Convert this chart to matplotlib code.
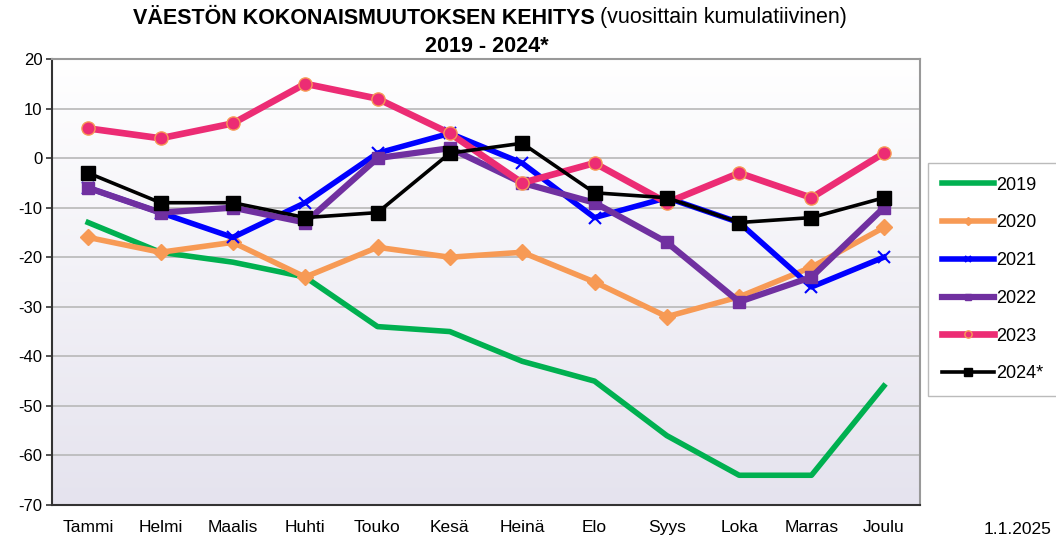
import matplotlib
matplotlib.use("Agg")
import matplotlib.pyplot as plt
import numpy as np
from matplotlib.colors import LinearSegmentedColormap

months = ["Tammi", "Helmi", "Maalis", "Huhti", "Touko", "Kesä", "Heinä",
          "Elo", "Syys", "Loka", "Marras", "Joulu"]
y2019 = [-13, -19, -21, -24, -34, -35, -41, -45, -56, -64, -64, -46]
y2020 = [-16, -19, -17, -24, -18, -20, -19, -25, -32, -28, -22, -14]
y2021 = [-6, -11, -16, -9, 1, 5, -1, -12, -8, -13, -26, -20]
y2022 = [-6, -11, -10, -13, 0, 2, -5, -9, -17, -29, -24, -10]
y2023 = [6, 4, 7, 15, 12, 5, -5, -1, -9, -3, -8, 1]
y2024 = [-3, -9, -9, -12, -11, 1, 3, -7, -8, -13, -12, -8]
yticks = [20, 10, 0, -10, -20, -30, -40, -50, -60, -70]

plt.rcParams['font.family'] = ['Liberation Sans', 'DejaVu Sans']

fig = plt.figure(figsize=(10.56, 5.52), dpi=100)
ax = fig.add_axes([52/1056, 1-505/552, (920-52)/1056, (505-59)/552])

# gradient background
cmap = LinearSegmentedColormap.from_list("bg", ["#ffffff", "#e5e3ee"])
grad = np.linspace(0, 1, 256).reshape(-1, 1)
ax.imshow(grad, cmap=cmap, aspect='auto', extent=[0, 1, 0, 1],
          transform=ax.transAxes, zorder=0)

x = np.arange(len(months))
ax.plot(x, y2019, color="#00b050", lw=4.0, label="2019", zorder=3)
ax.plot(x, y2020, color="#f79a55", lw=4.0, marker='D', ms=8, mec="#f79a55",
        label="2020", zorder=3)
ax.plot(x, y2021, color="#0000ff", lw=4.0, marker='x', ms=8, mew=1.5,
        label="2021", zorder=4)
ax.plot(x, y2022, color="#7030a0", lw=4.5, marker='s', ms=8,
        label="2022", zorder=5)
ax.plot(x, y2023, color="#ec2c74", lw=4.8, marker='o', ms=9.5, mec="#f79a55",
        mew=1.0, label="2023", zorder=6)
ax.plot(x, y2024, color="#000000", lw=2.6, marker='s', ms=10,
        label="2024*", zorder=7)

ax.set_xlim(-0.5, len(months) - 0.5)
ax.set_ylim(-70, 20)
ax.set_yticks(yticks)
ax.set_yticklabels([str(v) for v in yticks], fontsize=12)
ax.set_xticks(x)
ax.set_xticklabels(months, fontsize=12.5)
ax.tick_params(axis='x', length=0, pad=11)
ax.tick_params(axis='y', length=4, width=1.2, color="#333333", pad=3,
               direction='out')
ax.grid(axis='y', color="#b8b8b8", lw=1.2, zorder=1)
ax.set_axisbelow(True)
for s in ['top', 'right']:
    ax.spines[s].set_color("#999999")
    ax.spines[s].set_linewidth(1.5)
for s in ['left', 'bottom']:
    ax.spines[s].set_color("#333333")
    ax.spines[s].set_linewidth(1.5)

leg = fig.legend(loc='upper left', bbox_to_anchor=(928/1056, 1-163/552),
                 fontsize=13, frameon=True, fancybox=False,
                 edgecolor="#aaaaaa", borderpad=0.75, labelspacing=1.15,
                 handlelength=2.9, handletextpad=0.15, borderaxespad=0,
                 markerscale=0.55)
leg.get_frame().set_linewidth(1.0)

# title
fig.canvas.draw()
tfam = ['Liberation Sans Narrow', 'Liberation Sans']
t1 = fig.text(0, 1-18/552, "VÄESTÖN KOKONAISMUUTOKSEN KEHITYS", fontsize=15.5,
              fontweight='bold', va='center', ha='left', family=tfam)
t2 = fig.text(0, 1-18/552, " (vuosittain kumulatiivinen)", fontsize=15.5,
              va='center', ha='left', family=tfam)
r = fig.canvas.get_renderer()
w1 = t1.get_window_extent(r).width
w2 = t2.get_window_extent(r).width
start = 490 - (w1 + w2) / 2
t1.set_x(start / 1056)
t2.set_x((start + w1) / 1056)
fig.text(487/1056, 1-46/552, "2019 - 2024*", fontsize=15.5, fontweight='bold',
         ha='center', va='center', family=tfam)
fig.text(984/1056, 1-530/552, "1.1.2025", fontsize=12.5, ha='left',
         va='center')

fig.savefig("out.png", dpi=100)
